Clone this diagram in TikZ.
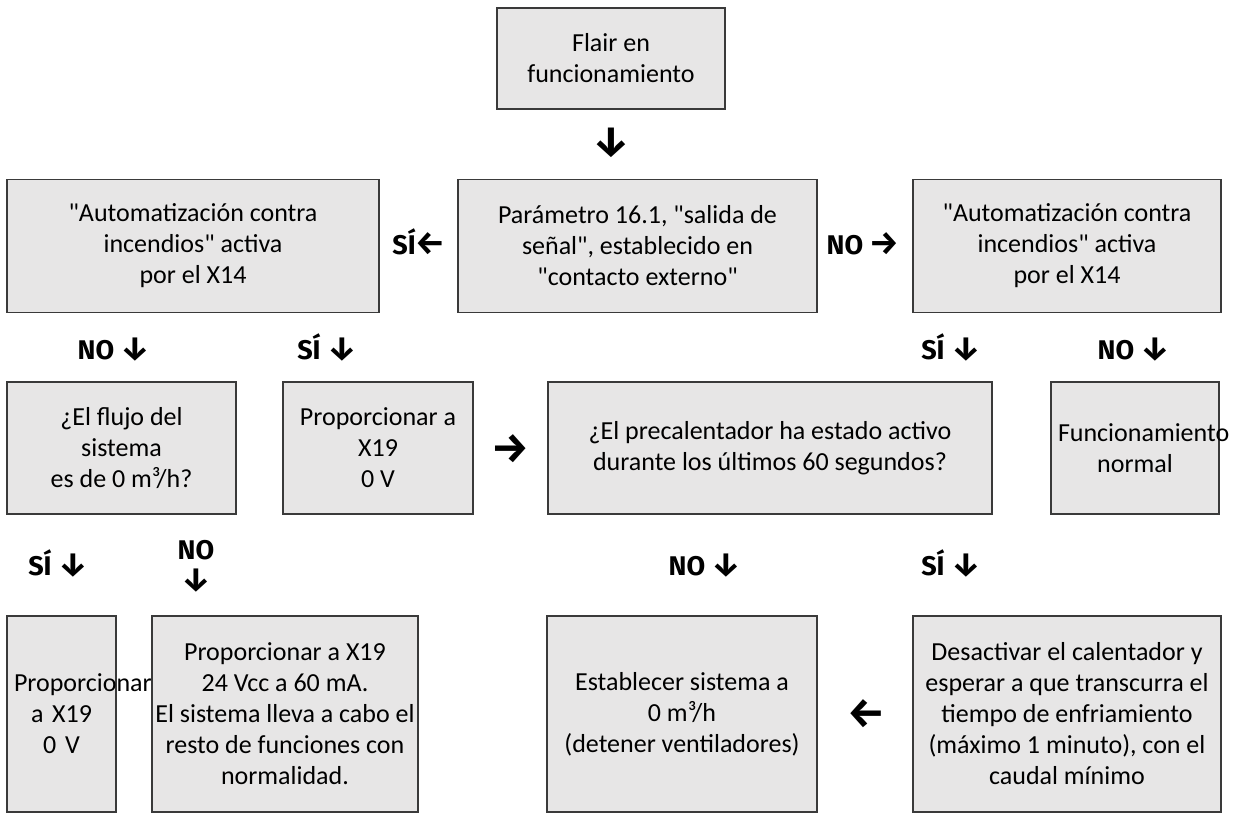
\documentclass[tikz,border=0pt]{standalone}
\usepackage{fontspec}
\setmainfont{Carlito}
\newfontfamily\lblfont{Fira Sans}
\definecolor{boxfill}{HTML}{E7E6E6}
\definecolor{boxline}{HTML}{3A3A3A}
\hyphenpenalty=10000
\newcommand\qt{\textquotedbl}
\newcommand\arw[1]{{\fontsize{33pt}{31pt}\selectfont#1}}

\begin{document}
\begin{tikzpicture}[x=1pt, y=-1pt,
  every node/.style = {align=center, inner sep=0pt,
    font=\fontsize{26pt}{31pt}\selectfont},
  box/.style 2 args = {draw=boxline, fill=boxfill, line width=1.3pt,
    minimum width=#1, minimum height=#2},
  narrow/.style = {text width=#1, inner xsep=7pt},
  answer/.style = {anchor=base, font=\lblfont\bfseries\fontsize{27pt}{31pt}\selectfont},
  glyph/.style = {font=\lblfont\bfseries\fontsize{42pt}{42pt}\selectfont}]
\useasboundingbox (0,0) rectangle (1242,814);

% top
\node[box={228pt}{101pt}] (flair) at (611,58.5) {Flair en\\funcionamiento};
\node[glyph] (a0) at (611,143) {↓};

% second row
\node[box={372pt}{133pt}] (autoL) at (193,246)
  {\qt Automatización contra\\incendios\qt{} activa\\por el X14};
\node[box={359pt}{133pt}] (param) at (637.5,246)
  {Parámetro 16.1, \qt salida de\\señal\qt, establecido en\\\qt contacto externo\qt};
\node[box={308pt}{133pt}] (autoR) at (1067,246)
  {\qt Automatización contra\\incendios\qt{} activa\\por el X14};
\node[answer] (a1) at (419,254) {SÍ\arw{←}};
\node[answer] (a2) at (863,254) {NO \arw{→}};

\node[answer] (a3) at (114,359) {NO \arw{↓}};
\node[answer] (a4) at (327,359) {SÍ \arw{↓}};
\node[answer] (a5) at (951,359) {SÍ \arw{↓}};
\node[answer] (a6) at (1134,359) {NO \arw{↓}};

% third row
\node[box={229pt}{132pt}] (flujo) at (121.5,448)
  {¿El flujo del\\sistema\\es de 0 m³/h?};
\node[box={190pt}{132pt}] (cero1) at (378,448)
  {Proporcionar a\\X19\\0 V};
\node[glyph] (a7) at (510,449) {→};
\node[box={444pt}{132pt}] (precal) at (770,448)
  {¿El precalentador ha estado activo\\durante los últimos 60 segundos?};
\node[box={168pt}{132pt}, narrow=154pt] (normal) at (1135,448)
  {Funcionamiento\\normal};

\node[answer] (a8) at (58,575) {SÍ \arw{↓}};
\node[answer, anchor=center] (a9) at (196,566) {NO\\\arw{↓}};
\node[answer] (a10) at (705,575) {NO \arw{↓}};
\node[answer] (a11) at (951,575) {SÍ \arw{↓}};

% bottom row
\node[box={109pt}{196pt}, narrow=95pt] (cero2) at (61.5,714)
  {Proporcionar\\a X19\\0 V};
\node[box={266pt}{196pt}] (vcc) at (285,714)
  {Proporcionar a X19\\24 Vcc a 60 mA.\\El sistema lleva a cabo el\\resto de funciones con\\normalidad.};
\node[box={270pt}{196pt}] (parar) at (682,714)
  {Establecer sistema a\\0 m³/h\\(detener ventiladores)};
\node[glyph] (a12) at (866,714) {←};
\node[box={308pt}{196pt}] (enfriar) at (1067,714)
  {Desactivar el calentador y\\esperar a que transcurra el\\tiempo de enfriamiento\\(máximo 1 minuto), con el\\caudal mínimo};
\end{tikzpicture}
\end{document}
